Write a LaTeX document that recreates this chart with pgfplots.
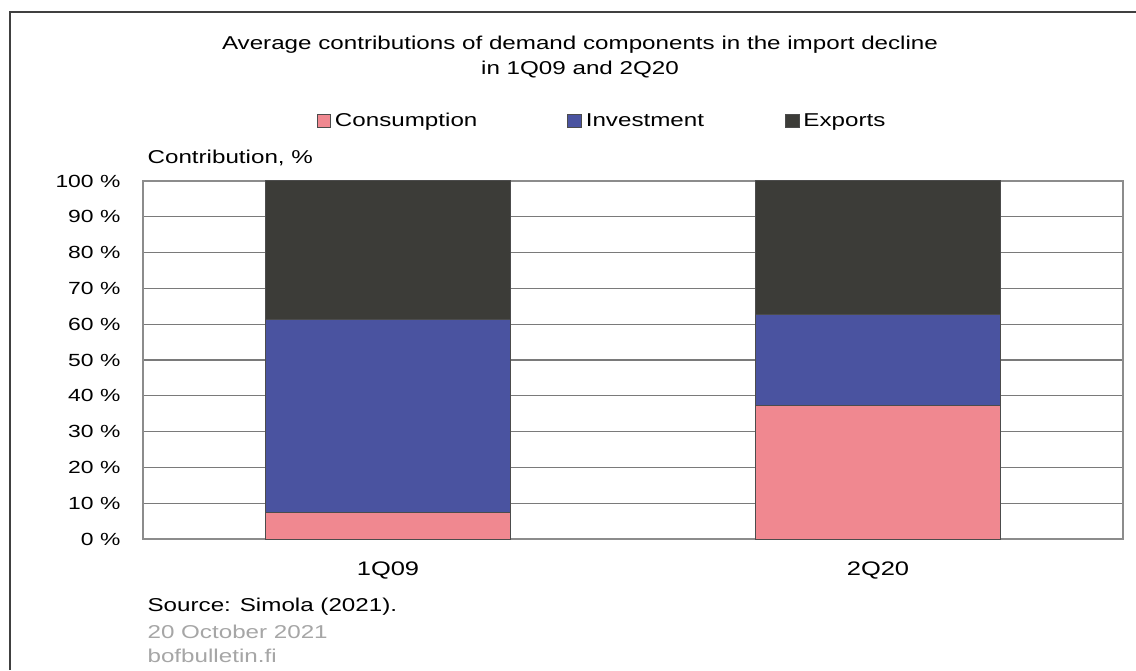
\documentclass[border=0pt]{standalone}
\usepackage{pgfplots}
\pgfplotsset{compat=1.18}
\usepackage{fontspec}
\setmainfont{Liberation Sans}[FakeStretch=1.3]

\definecolor{cons}{HTML}{F08890}
\definecolor{inv}{HTML}{4A53A0}
\definecolor{expo}{HTML}{3C3C38}
\definecolor{gridc}{HTML}{7A7A7A}
\definecolor{framec}{HTML}{8C8C8C}

\begin{document}
\fontsize{9.3}{12.5}\selectfont
\begin{tikzpicture}
\useasboundingbox (0,0) rectangle (568pt,335pt);
\fill[white] (0,0) rectangle (568pt,335pt);
% outer frame (top and left edges)
\draw[black!75, line width=0.7pt] (5pt,0) -- (5pt,329pt) -- (568pt,329pt);

\node[align=center] at (290pt,306.5pt)
  {Average contributions of demand components in the import decline\\in 1Q09 and 2Q20};
\node[anchor=west] at (70.5pt,256pt) {Contribution, \%};

\begin{axis}[
    at={(71.5pt,65.5pt)}, anchor=south west,
    width=490pt, height=179pt, scale only axis,
    ybar stacked, bar width=122.5pt, bar shift=0pt,
    xmin=-0.5, xmax=1.5,
    ymin=0, ymax=100,
    xtick={0,1}, xticklabels={1Q09,2Q20},
    ytick={0,10,...,100},
    yticklabel={\pgfmathparse{int(\tick)}\pgfmathresult~\%},
    major tick length=0pt,
    ymajorgrids, grid style={gridc, line width=0.6pt},
    axis line style={framec, line width=1pt},
    xticklabel style={yshift=-8pt, font=\fontsize{9.8}{11}\selectfont},
    yticklabel style={xshift=-8pt, font=\fontsize{8.8}{10}\selectfont},
    legend columns=3,
    legend style={at={(0.5,1)}, anchor=center, xshift=-15pt, yshift=30pt,
        draw=none, fill=none,
        nodes={text height=1.6ex, text depth=0.4ex},
        /tikz/every even column/.append style={column sep=43pt}},
    legend image code/.code={\draw[#1, draw=black!70, line width=0.4pt] (0pt,-3.4pt) rectangle (6.8pt,3.4pt);},
]
\addplot[fill=cons, draw=black!70, line width=0.5pt] coordinates {(0,7.5) (1,37.4)};
\addplot[fill=inv, draw=black!70, line width=0.5pt] coordinates {(0,53.8) (1,25.3)};
\addplot[fill=expo, draw=black!70, line width=0.5pt] coordinates {(0,38.7) (1,37.3)};
\legend{Consumption,Investment\kern-4.5pt,Exports}
\end{axis}

\node[anchor=west] at (70.5pt,31.5pt) {Source: Simola (2021).};
\node[anchor=west, text=black!35] at (70.5pt,19pt) {20 October 2021};
\node[anchor=west, text=black!35] at (70.5pt,7pt) {bofbulletin.fi};
\end{tikzpicture}
\end{document}
